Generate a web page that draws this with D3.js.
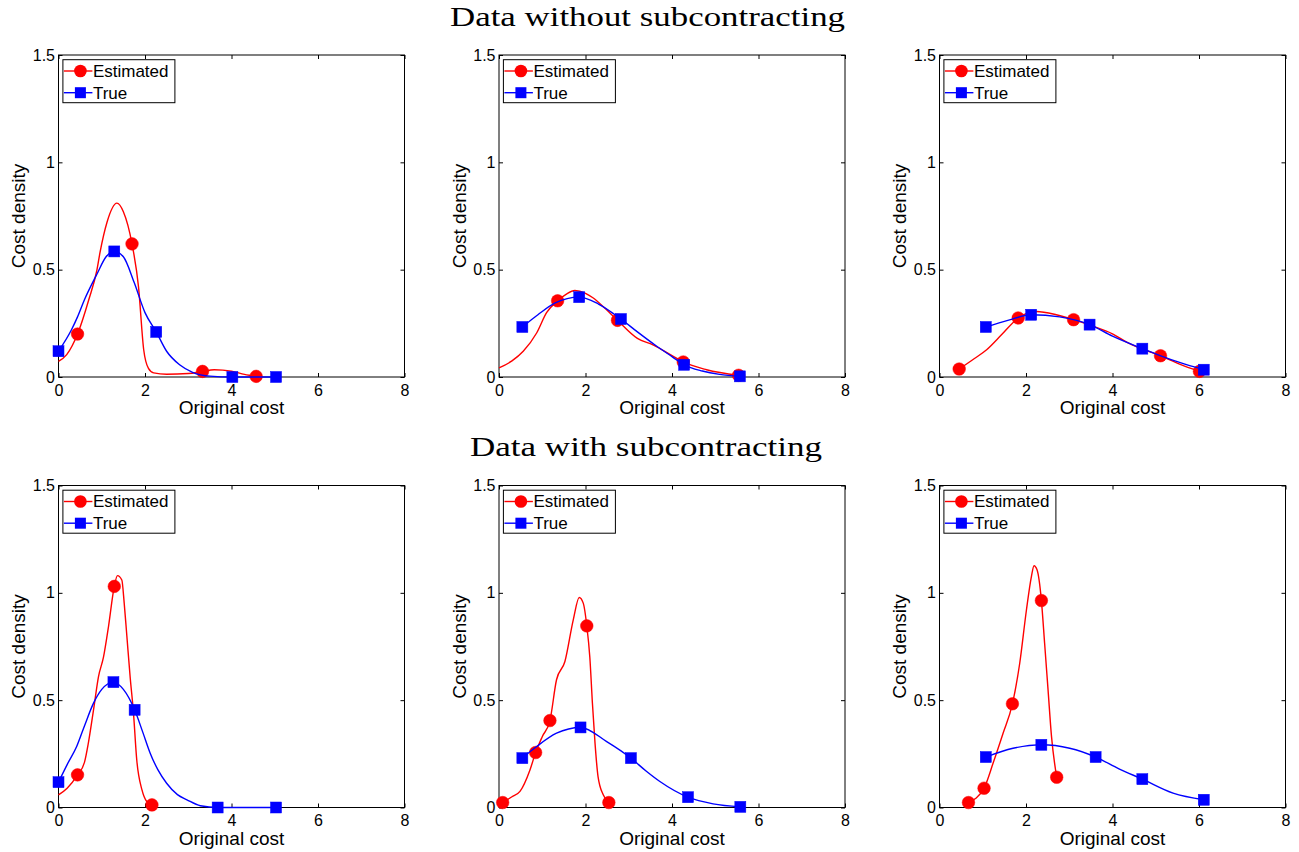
<!DOCTYPE html>
<html>
<head>
<meta charset="utf-8">
<script src="https://cdn.jsdelivr.net/npm/d3@7"></script>
<style>
  html, body { margin: 0; padding: 0; background: #ffffff; }
  svg { display: block; }
</style>
</head>
<body>
<svg id="chart" width="1299" height="852"></svg>
<script>
// ---------- data ----------
const titles = ["Data without subcontracting", "Data with subcontracting"];
const seriesNames = ["Estimated", "True"];
const xLabel = "Original cost";
const yLabel = "Cost density";
const xTicks = [0, 2, 4, 6, 8];
const xTickLabels = ["0", "2", "4", "6", "8"];
const yTicks = [0, 0.5, 1, 1.5];
const yTickLabels = ["0", "0.5", "1", "1.5"];

// Panel 1: without subcontracting, left
const est1Curve = [[0,0.073],[0.19,0.104],[0.44,0.20],[0.7,0.36],[0.89,0.50],[0.96,0.58],[1.12,0.72],[1.35,0.81],[1.5,0.77],[1.70,0.62],[1.85,0.42],[1.97,0.127],[2.08,0.04],[2.2,0.019],[2.5,0.013],[3.0,0.016],[3.33,0.026],[3.6,0.034],[4.0,0.027],[4.3,0.012],[4.57,0.003]];
const est1Pts = [[0.44,0.20],[1.70,0.62],[3.33,0.026],[4.57,0.003]];
const true1Curve = [[0,0.12],[0.3,0.22],[0.44,0.28],[0.6,0.36],[0.89,0.48],[1.1,0.56],[1.29,0.585],[1.5,0.56],[1.75,0.44],[2.0,0.30],[2.26,0.21],[2.5,0.12],[2.8,0.057],[3.1,0.022],[3.5,0.004],[4.02,0],[5.03,0]];
const true1Pts = [[0,0.12],[1.29,0.585],[2.26,0.21],[4.02,0],[5.03,0]];

// Panel 2: without subcontracting, middle
const est2Curve = [[0,0.042],[0.3,0.075],[0.56,0.12],[0.87,0.205],[1.1,0.30],[1.355,0.355],[1.55,0.385],[1.755,0.403],[2.0,0.39],[2.18,0.368],[2.45,0.32],[2.74,0.264],[3.2,0.18],[3.56,0.15],[4.03,0.096],[4.26,0.07],[4.8,0.034],[5.54,0.008]];
const est2Pts = [[1.355,0.355],[2.74,0.264],[4.26,0.07],[5.54,0.008]];
const true2Curve = [[0.54,0.233],[0.9,0.29],[1.3,0.345],[1.855,0.372],[2.3,0.34],[2.82,0.27],[3.2,0.21],[3.6,0.15],[4.0,0.095],[4.28,0.057],[4.7,0.028],[5.1,0.012],[5.57,0.003]];
const true2Pts = [[0.54,0.233],[1.855,0.372],[2.82,0.27],[4.28,0.057],[5.57,0.003]];

// Panel 3: without subcontracting, right
const est3Curve = [[0.455,0.037],[0.8,0.085],[1.09,0.127],[1.45,0.2],[1.82,0.275],[2.24,0.305],[2.7,0.29],[3.10,0.267],[3.5,0.24],[4.01,0.2],[4.35,0.16],[4.63,0.135],[5.11,0.099],[5.55,0.06],[6.01,0.026]];
const est3Pts = [[0.455,0.037],[1.82,0.275],[3.10,0.267],[5.11,0.099],[6.01,0.026]];
const true3Curve = [[1.07,0.233],[1.6,0.265],[2.12,0.29],[2.78,0.28],[3.47,0.244],[4.0,0.19],[4.69,0.132],[5.1,0.1],[5.55,0.068],[6.11,0.034]];
const true3Pts = [[1.07,0.233],[2.12,0.29],[3.47,0.244],[4.69,0.132],[6.11,0.034]];

// Panel 4: with subcontracting, left
const est4Curve = [[0,0.059],[0.2,0.09],[0.44,0.152],[0.6,0.21],[0.69,0.30],[0.81,0.455],[0.925,0.61],[1.04,0.70],[1.156,0.843],[1.29,1.03],[1.364,1.08],[1.464,1.06],[1.52,0.95],[1.58,0.80],[1.66,0.60],[1.73,0.45],[1.81,0.22],[1.93,0.082],[2.04,0.028],[2.16,0.012]];
const est4Pts = [[0.44,0.152],[1.29,1.03],[2.16,0.012]];
const true4Curve = [[0,0.118],[0.2,0.2],[0.42,0.284],[0.6,0.38],[0.81,0.486],[1.0,0.55],[1.27,0.584],[1.5,0.55],[1.76,0.455],[1.95,0.35],[2.12,0.253],[2.3,0.175],[2.5,0.113],[2.75,0.06],[2.97,0.036],[3.28,0.008],[3.68,0],[5.03,0]];
const true4Pts = [[0,0.118],[1.27,0.584],[1.76,0.455],[3.68,0],[5.03,0]];

// Panel 5: with subcontracting, middle
const est5Curve = [[0.085,0.023],[0.3,0.05],[0.485,0.075],[0.716,0.175],[0.847,0.256],[1.0,0.33],[1.178,0.405],[1.33,0.595],[1.524,0.68],[1.717,0.874],[1.855,0.978],[1.948,0.952],[2.03,0.846],[2.10,0.70],[2.16,0.486],[2.22,0.30],[2.29,0.144],[2.41,0.059],[2.54,0.023]];
const est5Pts = [[0.085,0.023],[0.847,0.256],[1.178,0.405],[2.03,0.846],[2.54,0.023]];
const true5Curve = [[0.54,0.23],[0.87,0.284],[1.33,0.346],[1.885,0.373],[2.49,0.307],[3.05,0.23],[3.4,0.17],[3.72,0.121],[4.37,0.048],[4.95,0.017],[5.58,0.003]];
const true5Pts = [[0.54,0.23],[1.885,0.373],[3.05,0.23],[4.37,0.048],[5.58,0.003]];

// Panel 6: with subcontracting, right
const est6Curve = [[0.67,0.023],[1.03,0.09],[1.24,0.207],[1.47,0.346],[1.686,0.483],[1.855,0.672],[2.01,0.92],[2.125,1.076],[2.186,1.126],[2.255,1.107],[2.356,0.964],[2.43,0.766],[2.51,0.548],[2.59,0.33],[2.71,0.141]];
const est6Pts = [[0.67,0.023],[1.03,0.09],[1.686,0.483],[2.356,0.964],[2.71,0.141]];
const true6Curve = [[1.07,0.235],[1.70,0.276],[2.355,0.292],[3.01,0.276],[3.61,0.235],[4.15,0.18],[4.69,0.132],[5.4,0.067],[6.11,0.036]];
const true6Pts = [[1.07,0.235],[2.355,0.292],[3.61,0.235],[4.69,0.132],[6.11,0.036]];

const panels = [
  { est: est1Curve, estPts: est1Pts, tru: true1Curve, truPts: true1Pts },
  { est: est2Curve, estPts: est2Pts, tru: true2Curve, truPts: true2Pts },
  { est: est3Curve, estPts: est3Pts, tru: true3Curve, truPts: true3Pts },
  { est: est4Curve, estPts: est4Pts, tru: true4Curve, truPts: true4Pts },
  { est: est5Curve, estPts: est5Pts, tru: true5Curve, truPts: true5Pts },
  { est: est6Curve, estPts: est6Pts, tru: true6Curve, truPts: true6Pts }
];

// ---------- layout & style ----------
const colLeft = [58.5, 499, 939.5];
const rowTop = [55, 485.5];
const PW = 346, PH = 322;
const RED = "#ff0000", BLUE = "#0000ff";
const SANS = "'Liberation Sans', Arial, Helvetica, sans-serif";
const SERIF = "'Liberation Serif', 'Times New Roman', serif";

const svg = d3.select("#chart");
svg.append("rect").attr("width", 1299).attr("height", 852).attr("fill", "#fff");

// titles
const titleSpec = [
  { text: titles[0], x: 647.5, y: 26, len: 395 },
  { text: titles[1], x: 646, y: 456, len: 352 }
];
titleSpec.forEach(t => {
  svg.append("text")
    .attr("x", t.x).attr("y", t.y)
    .attr("text-anchor", "middle")
    .attr("font-family", SERIF)
    .attr("font-size", 28)
    .attr("textLength", t.len)
    .attr("lengthAdjust", "spacingAndGlyphs")
    .attr("fill", "#000")
    .text(t.text);
});

function drawPanel(p, left, top) {
  const x = d3.scaleLinear().domain([0, 8]).range([left, left + PW]);
  const y = d3.scaleLinear().domain([0, 1.5]).range([top + PH, top]);
  const g = svg.append("g");

  // axes with inward ticks
  const styleAxis = sel => {
    sel.select(".domain").remove();
    sel.selectAll(".tick line").attr("stroke", "#000").attr("stroke-width", 1);
    sel.selectAll(".tick text").attr("fill", "#000");
    sel.attr("font-family", SANS).attr("font-size", 16);
  };
  g.append("g").attr("transform", `translate(0,${top + PH})`)
    .call(d3.axisBottom(x).tickValues(xTicks).tickSize(-4).tickSizeOuter(0).tickPadding(7.5)
      .tickFormat((d, i) => xTickLabels[i]))
    .call(styleAxis);
  g.append("g").attr("transform", `translate(0,${top})`)
    .call(d3.axisTop(x).tickValues(xTicks).tickSize(-4).tickSizeOuter(0).tickFormat(""))
    .call(styleAxis);
  g.append("g").attr("transform", `translate(${left},0)`)
    .call(d3.axisLeft(y).tickValues(yTicks).tickSize(-4).tickSizeOuter(0).tickPadding(3.5)
      .tickFormat((d, i) => yTickLabels[i]))
    .call(styleAxis);
  g.append("g").attr("transform", `translate(${left + PW},0)`)
    .call(d3.axisRight(y).tickValues(yTicks).tickSize(-4).tickSizeOuter(0).tickFormat(""))
    .call(styleAxis);

  // box
  g.append("rect")
    .attr("x", left).attr("y", top).attr("width", PW).attr("height", PH)
    .attr("fill", "none").attr("stroke", "#000").attr("stroke-width", 1);

  // axis labels
  g.append("text")
    .attr("x", left + PW / 2).attr("y", top + PH + 37)
    .attr("text-anchor", "middle")
    .attr("font-family", SANS).attr("font-size", 19)
    .attr("fill", "#000")
    .text(xLabel);
  g.append("text")
    .attr("transform", `translate(${left - 33.5},${top + PH / 2}) rotate(-90)`)
    .attr("text-anchor", "middle")
    .attr("font-family", SANS).attr("font-size", 19)
    .attr("fill", "#000")
    .text(yLabel);

  const line = d3.line().x(d => x(d[0])).y(d => y(d[1])).curve(d3.curveMonotoneX);

  // Estimated
  g.append("path").datum(p.est).attr("d", line)
    .attr("fill", "none").attr("stroke", RED).attr("stroke-width", 1.4);
  g.selectAll(null).data(p.estPts).join("circle")
    .attr("cx", d => x(d[0])).attr("cy", d => y(d[1])).attr("r", 6.3)
    .attr("fill", RED).attr("stroke", RED).attr("stroke-width", 0.5);

  // True
  g.append("path").datum(p.tru).attr("d", line)
    .attr("fill", "none").attr("stroke", BLUE).attr("stroke-width", 1.4);
  g.selectAll(null).data(p.truPts).join("rect")
    .attr("x", d => x(d[0]) - 5.5).attr("y", d => y(d[1]) - 5.5)
    .attr("width", 11).attr("height", 11)
    .attr("fill", BLUE).attr("stroke", BLUE).attr("stroke-width", 0.5);

  // legend
  const lx = left + 4.4, ly = top + 4.7;
  const lg = g.append("g");
  lg.append("rect").attr("x", lx).attr("y", ly).attr("width", 112).attr("height", 43)
    .attr("fill", "#fff").attr("stroke", "#000").attr("stroke-width", 1);
  const rows = [
    { name: seriesNames[0], color: RED, shape: "circle", cy: top + 16, ty: top + 21.7 },
    { name: seriesNames[1], color: BLUE, shape: "square", cy: top + 37.7, ty: top + 43.5 }
  ];
  rows.forEach(r => {
    lg.append("line").attr("x1", lx + 1).attr("x2", lx + 29.5)
      .attr("y1", r.cy).attr("y2", r.cy)
      .attr("stroke", r.color).attr("stroke-width", 1.4);
    if (r.shape === "circle") {
      lg.append("circle").attr("cx", lx + 17.5).attr("cy", r.cy).attr("r", 6.3)
        .attr("fill", r.color);
    } else {
      lg.append("rect").attr("x", lx + 17.5 - 5.5).attr("y", r.cy - 5.5)
        .attr("width", 11).attr("height", 11).attr("fill", r.color);
    }
    lg.append("text").attr("x", lx + 30).attr("y", r.ty)
      .attr("font-family", SANS).attr("font-size", 17).attr("fill", "#000")
      .text(r.name);
  });
}

panels.forEach((p, i) => {
  drawPanel(p, colLeft[i % 3], rowTop[Math.floor(i / 3)]);
});
</script>
</body>
</html>
